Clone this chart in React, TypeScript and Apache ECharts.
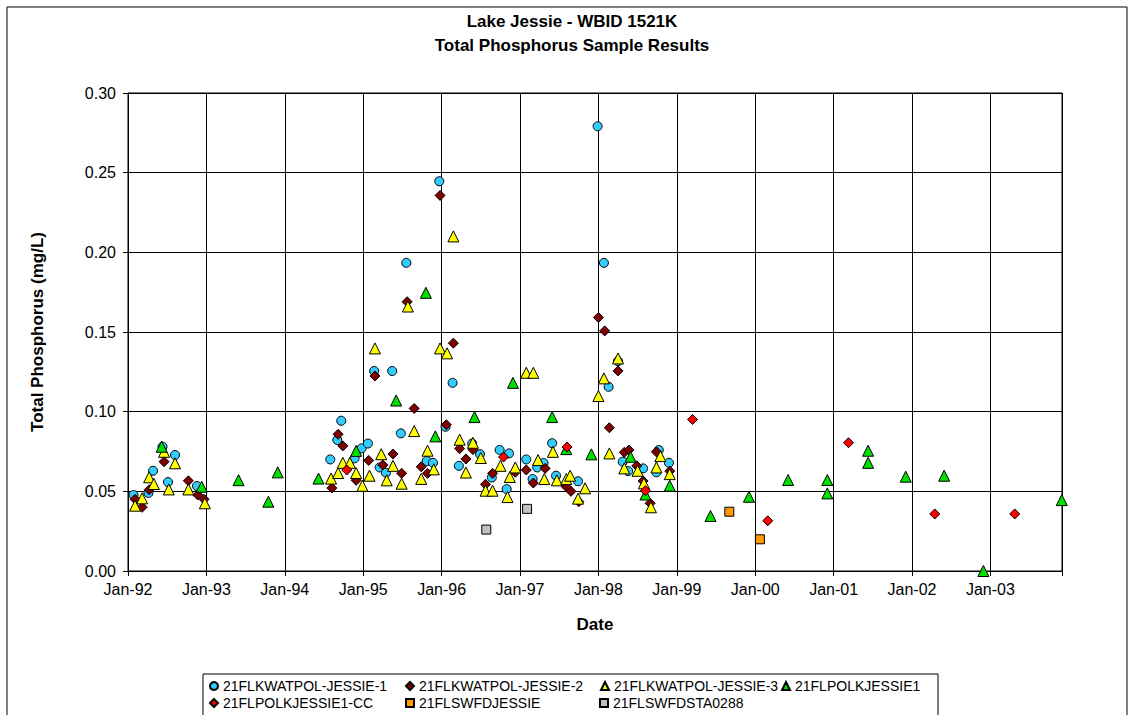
import React, { useEffect, useRef } from "react";
import * as echarts from "echarts";

const FONT = '"Liberation Sans", Arial, sans-serif';

const SERIES_NAMES = [
  "21FLKWATPOL-JESSIE-1",
  "21FLKWATPOL-JESSIE-2",
  "21FLKWATPOL-JESSIE-3",
  "21FLPOLKJESSIE1",
  "21FLPOLKJESSIE1-CC",
  "21FLSWFDJESSIE",
  "21FLSWFDSTA0288",
];

// [decimal year, total phosphorus mg/L]
const jessie1: [number, number][] = [
  [1992.07, 0.0477], [1992.26, 0.049], [1992.32, 0.0629], [1992.44, 0.078], [1992.51, 0.0558],
  [1992.6, 0.0728], [1992.88, 0.0533], [1994.58, 0.07], [1994.67, 0.0822], [1994.72, 0.0943],
  [1994.89, 0.0707], [1994.98, 0.077], [1995.06, 0.08], [1995.14, 0.1255], [1995.21, 0.065],
  [1995.29, 0.0617], [1995.37, 0.1255], [1995.48, 0.0864], [1995.55, 0.1934], [1995.81, 0.069],
  [1995.89, 0.0679], [1995.97, 0.2446], [1996.05, 0.0905], [1996.14, 0.1181], [1996.22, 0.066],
  [1996.39, 0.08], [1996.49, 0.0733], [1996.64, 0.0587], [1996.74, 0.076], [1996.83, 0.0514],
  [1996.86, 0.0738], [1997.08, 0.07], [1997.16, 0.0577], [1997.22, 0.065], [1997.3, 0.0678],
  [1997.41, 0.0802], [1997.46, 0.0598], [1997.74, 0.0563], [1997.99, 0.2791], [1998.07, 0.1934],
  [1998.13, 0.1156], [1998.25, 0.1317], [1998.31, 0.0686], [1998.38, 0.0627], [1998.57, 0.0644],
  [1998.74, 0.0619], [1998.77, 0.0759], [1998.9, 0.0679],
];

const jessie2: [number, number][] = [
  [1992.09, 0.045], [1992.18, 0.04], [1992.27, 0.051], [1992.46, 0.0686], [1992.77, 0.0566],
  [1992.89, 0.0477], [1992.97, 0.045], [1994.6, 0.0521], [1994.68, 0.0858], [1994.74, 0.0785],
  [1994.91, 0.0569], [1995.07, 0.0694], [1995.15, 0.1224], [1995.25, 0.0665], [1995.38, 0.0734],
  [1995.49, 0.0613], [1995.56, 0.169], [1995.65, 0.102], [1995.74, 0.0654], [1995.82, 0.0613],
  [1995.98, 0.2357], [1996.06, 0.0918], [1996.15, 0.143], [1996.23, 0.0768], [1996.31, 0.0703],
  [1996.4, 0.0762], [1996.56, 0.0544], [1996.65, 0.0613], [1996.94, 0.062], [1997.08, 0.0634],
  [1997.17, 0.0552], [1997.32, 0.0644], [1997.59, 0.0529], [1997.65, 0.05], [1997.75, 0.0435],
  [1998.0, 0.1591], [1998.08, 0.1507], [1998.14, 0.0899], [1998.25, 0.1256], [1998.33, 0.0745],
  [1998.39, 0.0759], [1998.49, 0.066], [1998.57, 0.0565], [1998.66, 0.0425], [1998.74, 0.0748],
  [1998.91, 0.0627],
];

const jessie3: [number, number][] = [
  [1992.09, 0.041], [1992.18, 0.0456], [1992.27, 0.0588], [1992.33, 0.0546], [1992.46, 0.0748],
  [1992.52, 0.0512], [1992.6, 0.0676], [1992.77, 0.0512], [1992.98, 0.0425], [1994.59, 0.058],
  [1994.68, 0.0615], [1994.74, 0.0679], [1994.83, 0.0679], [1994.91, 0.0615], [1994.99, 0.0535],
  [1995.08, 0.0598], [1995.15, 0.1397], [1995.23, 0.0733], [1995.3, 0.0569], [1995.38, 0.066],
  [1995.49, 0.0548], [1995.57, 0.166], [1995.65, 0.0878], [1995.74, 0.0578], [1995.82, 0.0755],
  [1995.9, 0.0638], [1995.98, 0.1397], [1996.07, 0.1366], [1996.15, 0.21], [1996.23, 0.0824],
  [1996.31, 0.0618], [1996.4, 0.0805], [1996.5, 0.0709], [1996.56, 0.0504], [1996.65, 0.0504],
  [1996.75, 0.066], [1996.84, 0.0464], [1996.87, 0.059], [1996.94, 0.065], [1997.08, 0.1244],
  [1997.17, 0.1244], [1997.23, 0.0696], [1997.31, 0.0577], [1997.42, 0.0748], [1997.47, 0.0569],
  [1997.59, 0.0577], [1997.64, 0.0598], [1997.74, 0.0454], [1997.83, 0.0519], [1998.0, 0.1098],
  [1998.07, 0.1209], [1998.14, 0.0738], [1998.25, 0.1334], [1998.33, 0.0644], [1998.5, 0.0629],
  [1998.58, 0.055], [1998.67, 0.04], [1998.74, 0.065], [1998.79, 0.0721], [1998.91, 0.0608],
];

const polk1: [number, number][] = [
  [1992.43, 0.078], [1992.94, 0.0529], [1993.41, 0.057], [1993.79, 0.0435], [1993.91, 0.0619],
  [1994.43, 0.058], [1994.91, 0.0754], [1995.42, 0.107], [1995.8, 0.1746], [1995.92, 0.0845],
  [1996.42, 0.0966], [1996.91, 0.1181], [1997.41, 0.0966], [1997.59, 0.0765], [1997.91, 0.0732],
  [1998.41, 0.0717], [1998.6, 0.048], [1998.91, 0.0535], [1999.43, 0.0345], [1999.92, 0.0466],
  [2000.42, 0.0571], [2000.92, 0.0571], [2000.92, 0.0487], [2001.44, 0.0755], [2001.44, 0.0679],
  [2001.92, 0.0592], [2002.41, 0.0598], [2002.91, 0.0], [2003.91, 0.0445],
];

const polk1cc: [number, number][] = [
  [1994.79, 0.0634], [1996.79, 0.0715], [1997.6, 0.0778], [1998.6, 0.0504], [1999.2, 0.0951],
  [2000.16, 0.0315], [2001.19, 0.0805], [2002.29, 0.0358], [2003.31, 0.0358],
];

const swfdJessie: [number, number][] = [
  [1999.67, 0.0372], [2000.06, 0.0199],
];

const swfdSta0288: [number, number][] = [
  [1996.57, 0.026], [1997.09, 0.039],
];

const SERIES_DATA = [jessie1, jessie2, jessie3, polk1, polk1cc, swfdJessie, swfdSta0288];
const SERIES_SYMBOLS = ["circle", "diamond", "triangle", "triangle", "diamond", "rect", "rect"];
const SERIES_SIZES = [9, 10, 11, 11, 10, 9, 9];
const SERIES_COLORS = ["#33CCFF", "#800000", "#FFFF00", "#00E000", "#FF0000", "#FF9900", "#C0C0C0"];

const LEGEND_POS = [
  { left: 209, top: 679 },
  { left: 405, top: 679 },
  { left: 600, top: 679 },
  { left: 781, top: 679 },
  { left: 209, top: 696 },
  { left: 405, top: 696 },
  { left: 599, top: 696 },
];

const X_MIN = 1992;
const X_MAX = 2003.913;

export default function App() {
  const ref = useRef<HTMLDivElement>(null);

  useEffect(() => {
    if (!ref.current) return;
    const chart = echarts.init(ref.current, null, { renderer: "svg" });

    const series = SERIES_NAMES.map((name, i) => ({
      name,
      type: "scatter",
      data: SERIES_DATA[i],
      symbol: SERIES_SYMBOLS[i],
      symbolSize: SERIES_SIZES[i],
      clip: false,
      itemStyle: { color: SERIES_COLORS[i], borderColor: "#000", borderWidth: 1, opacity: 1 },
      emphasis: { disabled: true },
      z: 3 + i,
    }));

    const legends = SERIES_NAMES.map((name, i) => ({
      data: [name],
      left: LEGEND_POS[i].left,
      top: LEGEND_POS[i].top,
      padding: 0,
      itemWidth: 8,
      itemHeight: 8,
      selectedMode: false,
      textStyle: { fontFamily: FONT, fontSize: 14, color: "#000" },
    }));

    chart.setOption({
      animation: false,
      backgroundColor: "#fff",
      textStyle: { fontFamily: FONT },
      title: {
        text: "Lake Jessie - WBID 1521K\nTotal Phosphorus Sample Results",
        left: 567,
        top: 4,
        textAlign: "center",
        textStyle: { fontFamily: FONT, fontSize: 17, fontWeight: "bold", color: "#000", lineHeight: 24 },
      },
      legend: legends,
      graphic: [
        {
          type: "rect",
          shape: { x: 7, y: 7, width: 1120, height: 720 },
          style: { fill: "none", stroke: "#000", lineWidth: 1 },
          z: -10,
          silent: true,
        },
        {
          type: "rect",
          shape: { x: 203, y: 674, width: 735, height: 50 },
          style: { fill: "#fff", stroke: "#000", lineWidth: 1 },
          z: -5,
          silent: true,
        },
      ],
      grid: {
        left: 128,
        right: 71,
        top: 93,
        bottom: 144,
        show: true,
        borderColor: "#000",
        borderWidth: 1,
        backgroundColor: "#fff",
      },
      xAxis: {
        type: "value",
        min: X_MIN,
        max: X_MAX,
        interval: 1,
        name: "Date",
        nameLocation: "middle",
        nameGap: 45,
        nameTextStyle: { fontFamily: FONT, fontSize: 17, fontWeight: "bold", color: "#000" },
        axisLine: { show: true, lineStyle: { color: "#000", width: 1 } },
        axisTick: { show: true, length: 5, lineStyle: { color: "#000" } },
        axisLabel: {
          margin: 10,
          color: "#000",
          fontSize: 16,
          fontFamily: FONT,
          formatter: (v: number) => (Number.isInteger(v) ? "Jan-" + String(v).slice(2) : ""),
        },
        splitLine: { show: true, lineStyle: { color: "#000", width: 1 } },
      },
      yAxis: {
        type: "value",
        min: 0,
        max: 0.3,
        interval: 0.05,
        name: "Total Phosphorus (mg/L)",
        nameLocation: "middle",
        nameGap: 82,
        nameTextStyle: { fontFamily: FONT, fontSize: 17, fontWeight: "bold", color: "#000" },
        axisLine: { show: true, lineStyle: { color: "#000", width: 1 } },
        axisTick: { show: true, length: 5, lineStyle: { color: "#000" } },
        axisLabel: {
          margin: 12,
          color: "#000",
          fontSize: 16,
          fontFamily: FONT,
          formatter: (v: number) => v.toFixed(2),
        },
        splitLine: { show: true, lineStyle: { color: "#000", width: 1 } },
      },
      series,
    });

    return () => chart.dispose();
  }, []);

  return (
    <div
      ref={ref}
      style={{ position: "absolute", left: 0, top: 0, width: 1133, height: 715, background: "#fff" }}
    />
  );
}
